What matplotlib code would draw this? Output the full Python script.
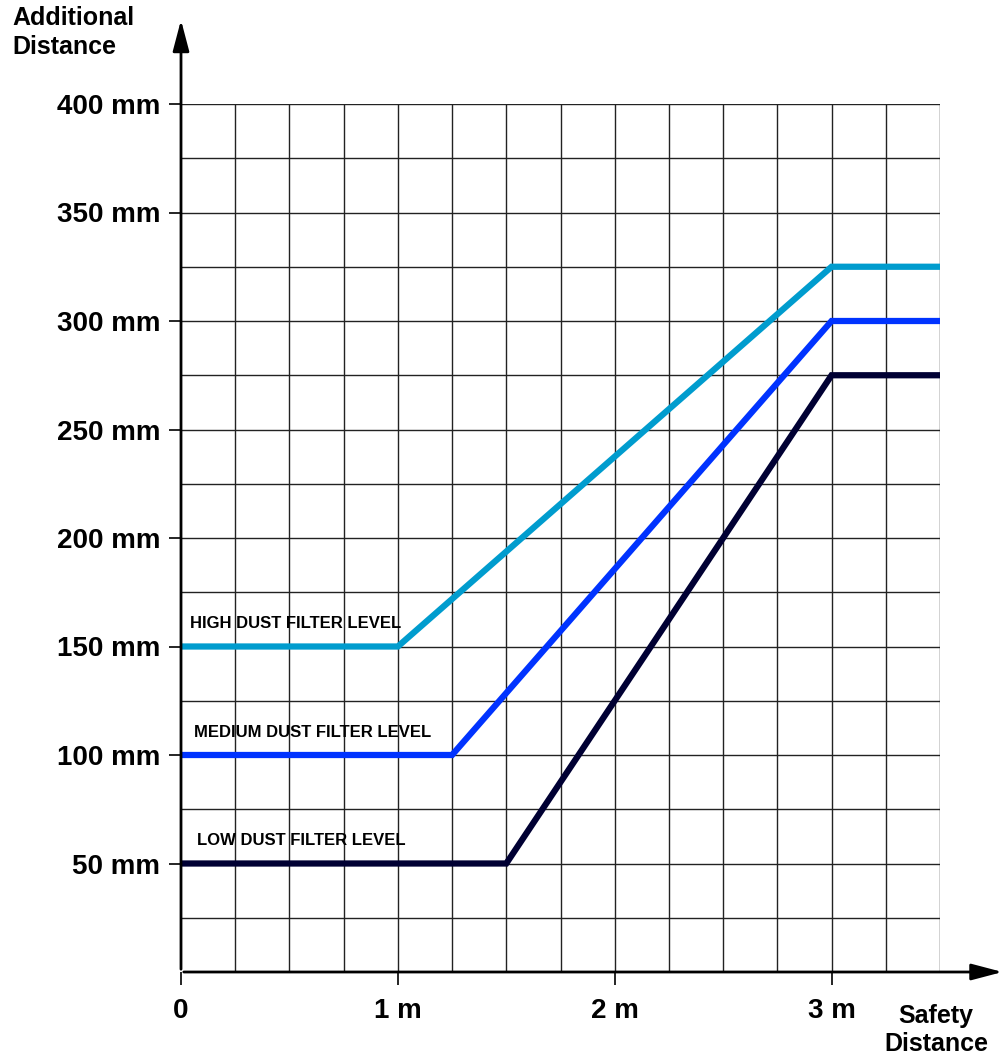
import numpy as np
import matplotlib.pyplot as plt
from matplotlib import font_manager

# series data (safety distance in m, additional distance in mm)
high_x = [0, 1.0, 3.0, 3.5]
high_y = [150, 150, 325, 325]
med_x = [0, 1.25, 3.0, 3.5]
med_y = [100, 100, 300, 300]
low_x = [0, 1.5, 3.0, 3.5]
low_y = [50, 50, 275, 275]

series_labels = ["HIGH DUST FILTER LEVEL", "MEDIUM DUST FILTER LEVEL", "LOW DUST FILTER LEVEL"]
x_ticks = [0, 1, 2, 3]
x_ticklabels = ["0", "1 m", "2 m", "3 m"]
y_ticks = [50, 100, 150, 200, 250, 300, 350, 400]
y_ticklabels = ["50 mm", "100 mm", "150 mm", "200 mm", "250 mm", "300 mm", "350 mm", "400 mm"]

names = {f.name for f in font_manager.fontManager.ttflist}
fam = ["Liberation Sans Narrow"] if "Liberation Sans Narrow" in names else ["Liberation Sans"]
plt.rcParams['font.family'] = fam + ["DejaVu Sans"]
plt.rcParams['font.weight'] = 'bold'

fig = plt.figure(figsize=(10.02, 10.59), dpi=100)
ax = fig.add_axes([181/1002, 87/1059, 759/1002, 868/1059])
ax.set_xlim(0, 3.5)
ax.set_ylim(0, 400)

# grid
for gx in np.arange(0.25, 3.51, 0.25):
    ax.axvline(gx, color='#222222', lw=1.0, zorder=1)
for gy in np.arange(25, 401, 25):
    ax.axhline(gy, color='#222222', lw=1.0, zorder=1)

for s in ax.spines.values():
    s.set_visible(False)

ax.plot(high_x, high_y, color='#009cce', lw=4.5, solid_joinstyle='miter', zorder=3)
ax.plot(med_x, med_y, color='#0033ff', lw=4.5, solid_joinstyle='miter', zorder=3)
ax.plot(low_x, low_y, color='#000033', lw=4.5, solid_joinstyle='miter', zorder=3)

ax.text(0.04, 157, series_labels[0], fontsize=12, fontweight='bold', va='bottom')
ax.text(0.06, 107, series_labels[1], fontsize=12, fontweight='bold', va='bottom')
ax.text(0.075, 57, series_labels[2], fontsize=12, fontweight='bold', va='bottom')

ax.set_xticks(x_ticks)
ax.set_xticklabels(x_ticklabels, fontsize=20, fontweight='bold')
ax.set_yticks(y_ticks)
ax.set_yticklabels(y_ticklabels, fontsize=20, fontweight='bold')
ax.tick_params(axis='x', length=9, width=1.2, pad=10, color='black')
ax.tick_params(axis='y', length=9, width=1.2, pad=6, color='black')

# axis arrows
ax.annotate('', xy=(0, 1.10), xytext=(0, 0), xycoords='axes fraction',
            arrowprops=dict(arrowstyle='-|>,head_length=1.9,head_width=0.5', color='black', lw=2),
            annotation_clip=False)
ax.annotate('', xy=(1.086, 0), xytext=(0, 0), xycoords='axes fraction',
            arrowprops=dict(arrowstyle='-|>,head_length=1.9,head_width=0.5', color='black', lw=2),
            annotation_clip=False)

fig.text(12/1002, 1-6/1059, "Additional\nDistance", fontsize=18, fontweight='bold',
         va='top', ha='left', linespacing=1.25)
fig.text(988/1002, 1-1056/1059, "Safety\nDistance", fontsize=18, fontweight='bold',
         va='bottom', ha='right', linespacing=1.2, multialignment='center')

fig.savefig('out.png', dpi=100)
